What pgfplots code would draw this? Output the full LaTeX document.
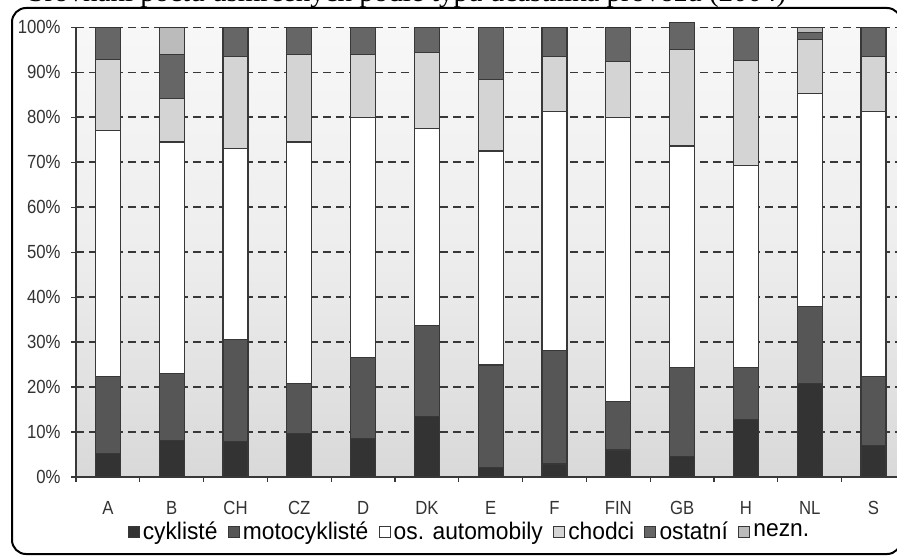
\documentclass[border=0pt]{standalone}
\usepackage{fontspec}
\setmainfont{Liberation Sans}[FakeStretch=0.95]
\newfontfamily\tickfont{Liberation Sans}[FakeStretch=0.88]
\newfontfamily\titlefont{Liberation Serif}
\usepackage{pgfplots}
\usepackage{pgfplotstable}
\pgfplotsset{compat=1.18}

\definecolor{cykC}{HTML}{333333}
\definecolor{motoC}{HTML}{565656}
\definecolor{autoC}{HTML}{FFFFFF}
\definecolor{chodC}{HTML}{D4D4D4}
\definecolor{ostC}{HTML}{666666}
\definecolor{neznC}{HTML}{BBBBBB}
\definecolor{edgeC}{HTML}{383838}
\definecolor{txtC}{HTML}{333333}

\pgfdeclareverticalshading{bggrad}{100bp}{%
  color(0bp)=(black!23); color(25bp)=(black!15); color(50bp)=(black!7);
  color(75bp)=(black!3); color(100bp)=(black!1)}

% podíly usmrcených podle typu účastníka (v %)
\pgfplotstableread{
x  cyk  moto  auto  chodci ostatni nezn
0  5.3  17.0  54.8  15.7   7.2     0
1  8.2  14.8  51.5   9.7   9.8     6.0
2  7.9  22.7  42.4  20.6   6.4     0
3  9.7  11.1  53.7  19.4   6.1     0
4  8.6  17.9  53.4  14.0   6.1     0
5  13.4 20.2  43.9  16.8   5.7     0
6  2.2  22.7  47.6  15.9  11.6     0
7  2.9  25.2  53.1  12.4   6.4     0
8  6.0  10.7  63.2  12.5   7.6     0
9  4.5  19.8  49.3  21.4   6.0     0
10 12.7 11.6  45.0  23.4   7.3     0
11 20.8 17.2  47.3  12.0   1.6     1.1
12 7.0  15.3  58.9  12.4   6.4     0
}\data

\begin{document}
\begin{tikzpicture}
\useasboundingbox (0,0) rectangle (448.5pt,-278pt);
\begin{scope}
\clip (0,0) rectangle (448.5pt,-278pt);
\fill[white] (0,0) rectangle (448.5pt,-278pt);
% nadpis (zčásti oříznutý horním okrajem)
\node[anchor=base west, inner sep=0pt]
  at (14pt,-0.8pt) {\titlefont\fontsize{14.5}{16}\selectfont Srovnání počtu usmrcených podle typu účastníka provozu (2004)};
% rámeček
\draw[line width=1pt, rounded corners=7pt] (6pt,-4pt) rectangle (450.5pt,-277pt);
\begin{axis}[
  at={(38pt,-238.5pt)}, anchor=south west, scale only axis,
  width=414.7pt, height=224.85pt,
  ybar stacked, bar width=12.5pt,
  xmin=-0.5, xmax=12.5, ymin=0, ymax=100,
  clip=false,
  axis x line*=bottom, axis y line*=left,
  axis line style={-, line width=0.7pt, color=edgeC},
  axis background/.style={shading=bggrad},
  xtick={0,...,12},
  xticklabels={A,B,CH,CZ,D,DK,E,F,FIN,GB,H,NL,S},
  minor xtick={-0.5,0.5,...,12.5},
  major x tick style={draw=none},
  tick align=outside, major tick length=2.5pt, minor tick length=2.5pt,
  tick style={line width=0.6pt, color=edgeC},
  ytick={0,10,...,100},
  yticklabel={\pgfmathprintnumber{\tick}\%},
  /pgf/number format/assume math mode=true,
  ymajorgrids,
  grid style={dash pattern=on 4pt off 2.5pt, line width=0.75pt, color=black!78},
  ticklabel style={font=\tickfont\fontsize{9.5}{10}\selectfont, text=txtC},
  xticklabel style={anchor=base, yshift=-16pt},
  yticklabel style={anchor=east, inner sep=0pt, xshift=-5pt},
  every axis plot/.append style={draw=edgeC, line width=0.55pt},
  legend image code/.code={\draw[#1, draw=edgeC, line width=0.5pt] (0pt,-2.75pt) rectangle (5.5pt,2.75pt);},
  legend style={at={(0.475,-0.122)}, anchor=center, draw=none, fill=none,
    legend columns=-1, font=\fontsize{12}{13}\selectfont, text=black,
    /tikz/every even column/.append style={column sep=3.5pt},
    nodes={inner sep=1.6pt}},
]
\addplot[fill=cykC]  table[x=x,y=cyk]{\data};
\addplot[fill=motoC] table[x=x,y=moto]{\data};
\addplot[fill=autoC] table[x=x,y=auto]{\data};
\addplot[fill=chodC] table[x=x,y=chodci]{\data};
\addplot[fill=ostC]  table[x=x,y=ostatni]{\data};
\addplot[fill=neznC] table[x=x,y=nezn]{\data};
\legend{cyklisté, motocyklisté, os. automobily, chodci, ostatní, nezn.}
\end{axis}
\end{scope}
\end{tikzpicture}
\end{document}
